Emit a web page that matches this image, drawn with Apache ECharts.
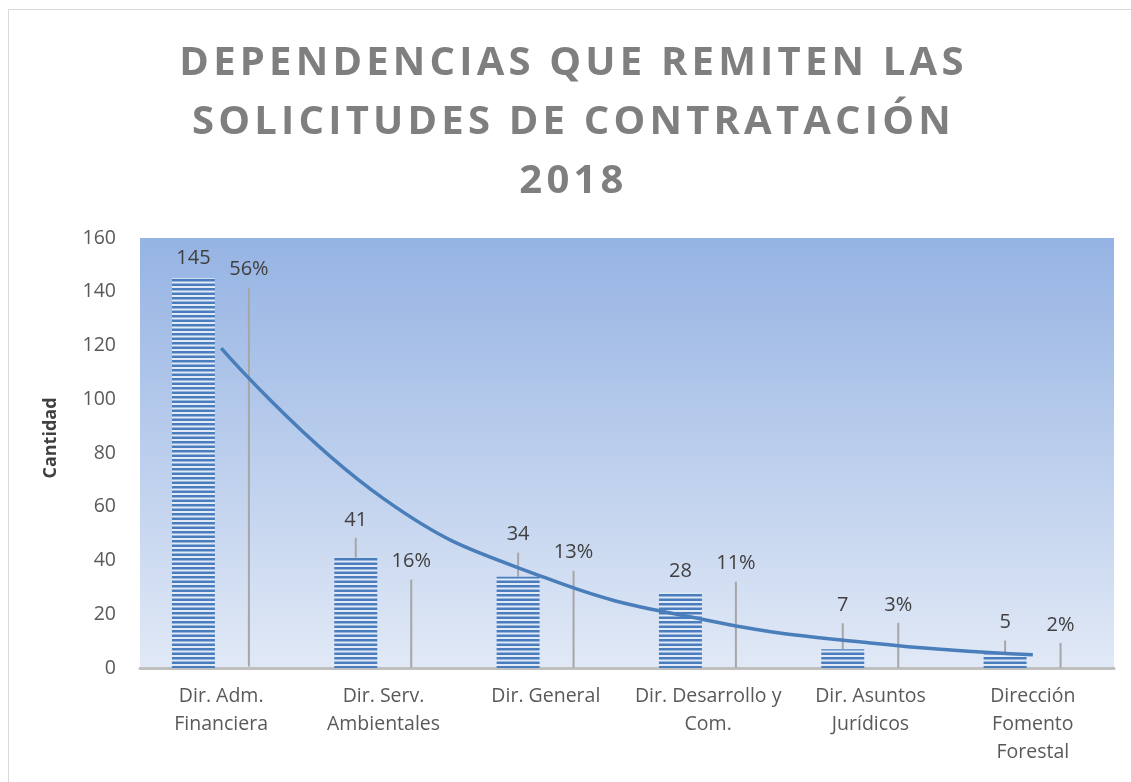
<!DOCTYPE html>
<html>
<head>
<meta charset="utf-8">
<script src="https://cdn.jsdelivr.net/npm/echarts@6/dist/echarts.min.js"></script>
<style>
    html, body { margin: 0; padding: 0; background: #fff; }
    #wrap { position: relative; width: 1131px; height: 782px; }
    #chart { position: absolute; left: 0; top: 0; width: 1131px; height: 782px; }
    #title {
        position: absolute; left: 8px; top: 30px; width: 1131px;
        text-align: center; font-family: 'Open Sans'; font-weight: bold;
        font-size: 40px; line-height: 59px; letter-spacing: 4.2px; color: #7f7f7f;
    }
</style>
</head>
<body>
<div id="wrap">
    <div id="chart"></div>
    <div id="title">DEPENDENCIAS QUE REMITEN LAS<br>SOLICITUDES DE CONTRATACIÓN<br>2018</div>
</div>
<script>
    // datos
    const categorias = ['Dir. Adm.\nFinanciera', 'Dir. Serv.\nAmbientales', 'Dir. General',
        'Dir. Desarrollo y\nCom.', 'Dir. Asuntos\nJurídicos', 'Dirección\nFomento\nForestal'];
    const cantidades = [145, 41, 34, 28, 7, 5];
    const porcentajes = [0.56, 0.16, 0.13, 0.11, 0.03, 0.02];
    const tendencia = [119, 63, 33.5, 17.7, 9.3, 4.9];
    const ejeY = { min: 0, max: 160, interval: 20 };

    const fuente = 'Open Sans';

    // desplazamiento manual de las etiquetas (px), como en el original
    const hueco = 8;
    const subirCantidad = [-5, -23, -27, -6, -29, -17];
    const subirPorcentaje = [-382, -91, -100, -89, -48, -28];

    // relleno rayado de las barras
    function rayas() {
        const c = document.createElement('canvas');
        c.width = 8; c.height = 9;
        const ctx = c.getContext('2d');
        ctx.fillStyle = '#e3eaf7';
        ctx.fillRect(0, 0, 8, 9);
        ctx.fillStyle = '#4a7dbd';
        ctx.fillRect(0, 0, 8, 2.5);
        ctx.fillRect(0, 4.5, 8, 2.5);
        return c;
    }

    let myChart = echarts.init(document.getElementById('chart'));

    const etiqueta = {
        show: true, position: 'top', distance: 5,
        padding: [0, 0, hueco, 0], backgroundColor: 'rgba(255,255,255,0)',
        fontFamily: fuente, fontSize: 20, color: '#404040'
    };

    let option = {
        animation: false,
        graphic: [{
            type: 'rect',
            shape: { x: 8.5, y: 9.5, width: 1300, height: 900 },
            style: { fill: 'none', stroke: '#d9d9d9', lineWidth: 1 },
            silent: true
        }],
        grid: {
            left: 140, right: 17, top: 238, bottom: 114,
            show: true, borderWidth: 0,
            backgroundColor: new echarts.graphic.LinearGradient(0, 0, 0, 1, [
                { offset: 0, color: '#95b3e3' },
                { offset: 1, color: '#e1e9f6' }
            ])
        },
        xAxis: {
            type: 'category',
            data: categorias,
            axisTick: { show: false },
            axisLine: { lineStyle: { color: '#bfbfbf', width: 3 } },
            axisLabel: {
                interval: 0, fontFamily: fuente, fontSize: 19.5, color: '#595959',
                lineHeight: 28, margin: 14
            }
        },
        yAxis: {
            type: 'value',
            min: ejeY.min, max: ejeY.max, interval: ejeY.interval,
            name: 'Cantidad',
            nameLocation: 'middle',
            nameGap: 80,
            nameTextStyle: { fontFamily: fuente, fontWeight: 'bold', fontSize: 18, color: '#404040', padding: [0, 0, 0, 30] },
            axisLabel: { fontFamily: fuente, fontSize: 19.5, color: '#595959', margin: 24 },
            axisLine: { show: false },
            axisTick: { show: false },
            splitLine: { show: false }
        },
        series: [
            {
                name: 'Cantidad',
                type: 'bar',
                barWidth: 43,
                barGap: '29%',
                data: cantidades.map((v, i) => ({
                    value: v,
                    labelLine: { show: subirCantidad[i] < -10 }
                })),
                itemStyle: { color: { image: rayas(), repeat: 'repeat' } },
                label: etiqueta,
                labelLayout: p => ({ dy: subirCantidad[p.dataIndex] + hueco }),
                labelLine: { show: true, lineStyle: { color: '#a6a6a6', width: 2 } }
            },
            {
                name: 'Porcentaje',
                type: 'bar',
                barWidth: 43,
                data: porcentajes,
                itemStyle: { color: 'rgba(0,0,0,0)' },
                label: Object.assign({}, etiqueta, {
                    formatter: p => Math.round(p.value * 100) + '%'
                }),
                labelLayout: p => ({ dy: subirPorcentaje[p.dataIndex] + hueco }),
                labelLine: { show: true, lineStyle: { color: '#a6a6a6', width: 2 } }
            },
            {
                name: 'Tendencia',
                type: 'line',
                data: tendencia,
                smooth: 0.45,
                symbol: 'none',
                z: 5,
                lineStyle: { color: '#4a7ebb', width: 3.5 }
            }
        ]
    };

    myChart.setOption(option);
</script>
</body>
</html>
